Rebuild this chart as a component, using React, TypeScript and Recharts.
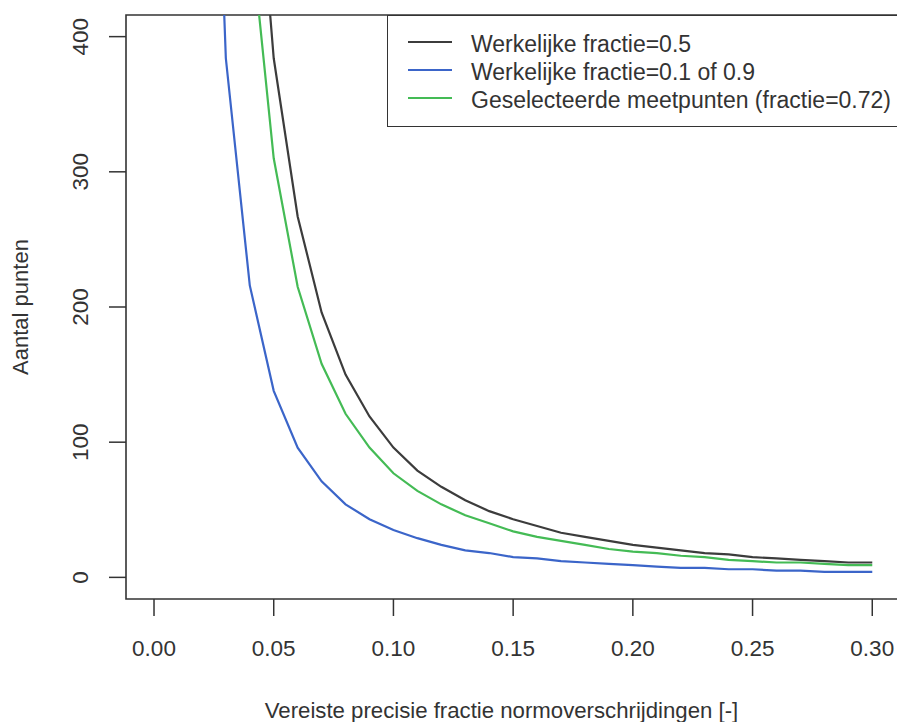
import { LineChart, Line, XAxis, YAxis, ReferenceArea, Legend } from "recharts";

// precisie (fractie) op de x-as
const precisie = [
  0.02, 0.03, 0.04, 0.05, 0.06, 0.07, 0.08, 0.09, 0.1, 0.11, 0.12, 0.13, 0.14, 0.15,
  0.16, 0.17, 0.18, 0.19, 0.2, 0.21, 0.22, 0.23, 0.24, 0.25, 0.26, 0.27, 0.28, 0.29, 0.3,
];
const fractie05 = [
  2401, 1067, 600, 384, 267, 196, 150, 119, 96, 79, 67, 57, 49, 43,
  38, 33, 30, 27, 24, 22, 20, 18, 17, 15, 14, 13, 12, 11, 11,
];
const fractie01 = [
  864, 384, 216, 138, 96, 71, 54, 43, 35, 29, 24, 20, 18, 15,
  14, 12, 11, 10, 9, 8, 7, 7, 6, 6, 5, 5, 4, 4, 4,
];
const fractie072 = [
  1936, 861, 484, 310, 215, 158, 121, 96, 77, 64, 54, 46, 40, 34,
  30, 27, 24, 21, 19, 18, 16, 15, 13, 12, 11, 11, 10, 9, 9,
];
const xTicks = [0, 0.05, 0.1, 0.15, 0.2, 0.25, 0.3];
const yTicks = [0, 100, 200, 300, 400];

const data = precisie.map((p, i) => ({
  p,
  a: fractie05[i],
  b: fractie01[i],
  c: fractie072[i],
}));

const FONT = "'Liberation Sans', Arial, sans-serif";
const INK = "#333";
const X_DOMAIN = [-0.0117, 0.312];
const Y_DOMAIN = [-16, 416];

function YTick(props: any) {
  const { x, y, payload } = props;
  return (
    <text
      x={x}
      y={y}
      dy="0.35em"
      textAnchor="middle"
      transform={`rotate(-90, ${x}, ${y})`}
      fill={INK}
      fontSize={22.5}
      fontFamily={FONT}
    >
      {payload.value}
    </text>
  );
}

function YTitle(props: any) {
  const vb = props.viewBox || { x: 0, y: 16, width: 126, height: 583 };
  const x = vb.x + 20;
  const y = vb.y + vb.height / 2;
  return (
    <text x={x} y={y} dy="0.35em" textAnchor="middle" transform={`rotate(-90, ${x}, ${y})`}
      fill={INK} fontSize={22} fontFamily={FONT}>
      Aantal punten
    </text>
  );
}

function XTitle(props: any) {
  const vb = props.viewBox || { x: 126, y: 599, width: 775, height: 123 };
  return (
    <text x={vb.x + vb.width / 2 - 12} y={vb.y + 111} dy="0.35em" textAnchor="middle"
      fill={INK} fontSize={22.2} fontFamily={FONT}>
      Vereiste precisie fractie normoverschrijdingen [-]
    </text>
  );
}

function LegendBox(props: any) {
  const items = props.payload || [];
  return (
    <div style={{ width: 519, height: 112, boxSizing: "border-box", border: `1.5px solid ${INK}`, background: "#fff" }}>
      <svg width={516} height={109}>
        {items.map((it: any, i: number) => (
          <g key={i}>
            <line x1={20} x2={64} y1={26 + i * 28} y2={26 + i * 28} stroke={it.color} strokeWidth={2.2} />
            <text x={83} y={35.5 + i * 28} fill={INK} fontSize={23} fontFamily={FONT}>
              {it.value}
            </text>
          </g>
        ))}
      </svg>
    </div>
  );
}

export default function App() {
  return (
    <div style={{ position: "absolute", left: 0, top: 0, width: 897, height: 722, overflow: "hidden", background: "#fff" }}>
      <LineChart width={930} height={722} data={data} margin={{ top: 15, right: 29, left: 0, bottom: 0 }}>
        <XAxis
          dataKey="p"
          type="number"
          domain={X_DOMAIN}
          allowDataOverflow
          ticks={xTicks}
          interval={0}
          tickFormatter={(v: number) => v.toFixed(2)}
          tickSize={17}
          tickMargin={24}
          height={123}
          axisLine={false}
          tickLine={{ stroke: INK, strokeWidth: 1.5 }}
          tick={{ fill: INK, fontSize: 22.5, fontFamily: FONT }}
          label={<XTitle />}
        />
        <YAxis
          type="number"
          domain={Y_DOMAIN}
          allowDataOverflow
          ticks={yTicks}
          interval={0}
          width={126}
          tickSize={17}
          tickMargin={29}
          axisLine={false}
          tickLine={{ stroke: INK, strokeWidth: 1.5 }}
          tick={<YTick />}
          label={<YTitle />}
        />
        <ReferenceArea
          x1={X_DOMAIN[0]}
          x2={X_DOMAIN[1]}
          y1={Y_DOMAIN[0]}
          y2={Y_DOMAIN[1]}
          fill="none"
          stroke={INK}
          strokeWidth={1.6}
          ifOverflow="visible"
        />
        <Line type="linear" dataKey="a" name="Werkelijke fractie=0.5" stroke="#3c3c3c" strokeWidth={2.2} dot={false} isAnimationActive={false} />
        <Line type="linear" dataKey="b" name="Werkelijke fractie=0.1 of 0.9" stroke="#3b65c9" strokeWidth={2.2} dot={false} isAnimationActive={false} />
        <Line type="linear" dataKey="c" name="Geselecteerde meetpunten (fractie=0.72)" stroke="#44bb55" strokeWidth={2.2} dot={false} isAnimationActive={false} />
        <Legend
          layout="vertical"
          align="center"
          verticalAlign="middle"
          itemSorter="dataKey"
          content={<LegendBox />}
          wrapperStyle={{ left: 387, top: 15, width: 519, height: 112 }}
        />
      </LineChart>
    </div>
  );
}
